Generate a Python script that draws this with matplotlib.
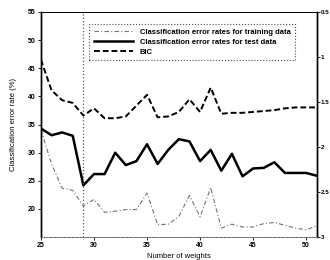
import matplotlib
matplotlib.use("Agg")
import matplotlib.pyplot as plt

plt.rcParams['font.family'] = ['Liberation Sans', 'DejaVu Sans']
plt.rcParams['font.weight'] = 'bold'

# number of weights on the x axis
weights = list(range(25, 52))

# classification error rates (%)
train_err = [34.1, 28.0, 23.7, 23.3, 20.5, 21.7, 19.4, 19.6, 19.9, 19.9, 22.8, 17.2, 17.3,
             18.7, 22.4, 18.6, 23.8, 16.6, 17.3, 16.8, 16.8, 17.4, 17.6, 17.1, 16.6, 16.3, 17.0]
test_err = [34.3, 33.1, 33.6, 33.0, 24.2, 26.2, 26.2, 30.0, 27.8, 28.5, 31.5, 28.0, 30.5,
            32.4, 32.0, 28.5, 30.5, 26.8, 29.8, 25.8, 27.2, 27.3, 28.3, 26.4, 26.4, 26.4, 25.9]

# BIC on the right (inverted) axis
bic = [1.03, 1.37, 1.48, 1.51, 1.65, 1.57, 1.68, 1.68, 1.66, 1.54, 1.42, 1.67, 1.66,
       1.61, 1.47, 1.61, 1.34, 1.63, 1.62, 1.62, 1.61, 1.60, 1.59, 1.57, 1.56, 1.56, 1.56]

best_weights = 29

fig = plt.figure(figsize=(3.3, 2.6), dpi=100)
ax = fig.add_axes([0.124, 0.088, 0.836, 0.866])

l1, = ax.plot(weights, train_err, color='0.45', linestyle=(0, (4, 2, 1, 2)), linewidth=0.8)
l2, = ax.plot(weights, test_err, color='black', linestyle='-', linewidth=1.8)
ax.axvline(best_weights, color='0.35', linestyle=':', linewidth=0.9)

ax.set_xlim(25, 51)
ax.set_ylim(15, 55)
ax.set_xticks([25, 30, 35, 40, 45, 50])
ax.set_yticks(range(20, 56, 5))
ax.tick_params(labelsize=5, length=2, width=0.6, pad=1.5)
ax.set_xlabel('Number of weights', fontsize=5.5, labelpad=3)
ax.set_ylabel('Classification error rate (%)', fontsize=5.5, labelpad=8)

ax2 = ax.twinx()
l3, = ax2.plot(weights, bic, color='black', linestyle=(0, (3, 1.5)), linewidth=1.4)
ax2.set_ylim(3, 0.5)
ax2.set_yticks([0.5, 1, 1.5, 2, 2.5, 3])
ax2.set_yticklabels(['0.5', '1', '1.5', '2', '2.5', '3'])
ax2.tick_params(labelsize=4.5, length=2, width=0.6, pad=0.8)

for a in (ax, ax2):
    a.spines['left'].set_linewidth(1.0)
    a.spines['right'].set_linewidth(1.0)
    a.spines['top'].set_linewidth(0.7)
    a.spines['bottom'].set_linestyle(':')
    a.spines['bottom'].set_color('0.4')
    a.spines['bottom'].set_linewidth(0.7)

leg = ax2.legend([l1, l2, l3],
                 ['Classification error rates for training data',
                  'Classification error rates for test data',
                  'BIC'],
                 loc='upper right', bbox_to_anchor=(0.935, 0.965),
                 fontsize=5.5, handlelength=5.2, labelspacing=0.35,
                 borderpad=0.6, fancybox=False, framealpha=1)
leg.get_frame().set_edgecolor('0.3')
leg.get_frame().set_linestyle(':')
leg.get_frame().set_linewidth(0.8)

fig.savefig('out.png', dpi=100)
